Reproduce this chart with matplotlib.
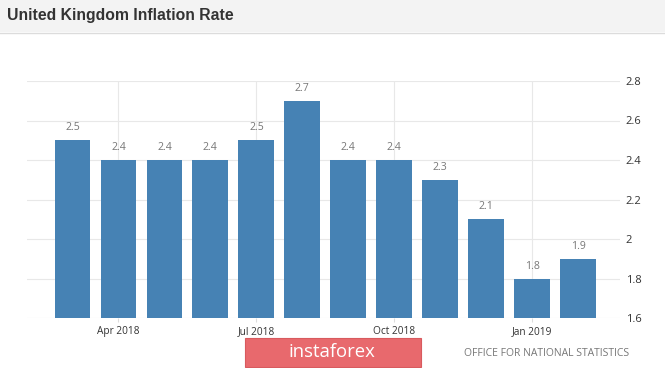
import matplotlib.pyplot as plt
from matplotlib.patches import Rectangle

# UK CPI, Mar 2018 - Feb 2019
months = ['Mar 2018', 'Apr 2018', 'May 2018', 'Jun 2018', 'Jul 2018', 'Aug 2018',
          'Sep 2018', 'Oct 2018', 'Nov 2018', 'Dec 2018', 'Jan 2019', 'Feb 2019']
rates = [2.5, 2.4, 2.4, 2.4, 2.5, 2.7, 2.4, 2.4, 2.3, 2.1, 1.8, 1.9]
tick_idx = [1, 4, 7, 10]
tick_labels = ['Apr 2018', 'Jul 2018', 'Oct 2018', 'Jan 2019']
yticks = [1.6, 1.8, 2.0, 2.2, 2.4, 2.6, 2.8]
ytick_labels = ['1.6', '1.8', '2', '2.2', '2.4', '2.6', '2.8']

plt.rcParams['font.family'] = ['Open Sans', 'DejaVu Sans']

fig = plt.figure(figsize=(6.65, 3.68), dpi=100)
fig.patch.set_facecolor('white')

# header strip
fig.patches.append(Rectangle((0, 1 - 32 / 368), 1, 32 / 368, transform=fig.transFigure,
                             facecolor='#f3f3f3', edgecolor='none', zorder=0))
fig.lines.append(plt.Line2D([0, 1], [1 - 32.5 / 368] * 2, transform=fig.transFigure,
                            color='#dcdcdc', lw=1))
fig.text(7 / 665, 1 - 15.5 / 368, 'United Kingdom Inflation Rate', fontsize=11.3,
         fontweight='bold', color='#333333', va='center', ha='left',
         family=['Liberation Sans', 'DejaVu Sans'])

ax = fig.add_axes([27 / 665, 50 / 368, 593 / 665, 237 / 368])
x = list(range(len(rates)))
ax.bar(x, rates, width=0.78, color='#4682b4', zorder=2)
for xi, v in zip(x, rates):
    ax.text(xi, v + 0.035, f'{v:.1f}', ha='center', va='bottom', fontsize=7.6,
            color='#777777', clip_on=False)

ax.set_xlim(-0.99, 11.91)
ax.set_ylim(1.6, 2.8)
ax.set_xticks(tick_idx)
ax.set_xticklabels(tick_labels, fontsize=7.3, color='#333333')
ax.set_yticks(yticks)
ax.set_yticklabels(ytick_labels, fontsize=8, color='#333333')
ax.yaxis.tick_right()
ax.tick_params(axis='y', length=0, pad=4)
ax.tick_params(axis='x', length=3, color='#dddddd', pad=3)
ax.grid(True, color='#e8e8e8', lw=0.8, zorder=0)
for s in ax.spines.values():
    s.set_visible(False)

# instaforex badge
fig.patches.append(Rectangle((245 / 665, 1 / 368), 176 / 665, 29 / 368,
                             transform=fig.transFigure, facecolor='#e8696d',
                             edgecolor='#d85a5e', lw=0.8))
fig.text(332 / 665, 16 / 368, 'instaforex', fontsize=13.3, color='white',
         ha='center', va='center')
fig.text(547 / 665, 14 / 368, 'OFFICE FOR NATIONAL STATISTICS', fontsize=7.5,
         color='#777777', ha='center', va='center')

fig.savefig('out.png', dpi=100)
